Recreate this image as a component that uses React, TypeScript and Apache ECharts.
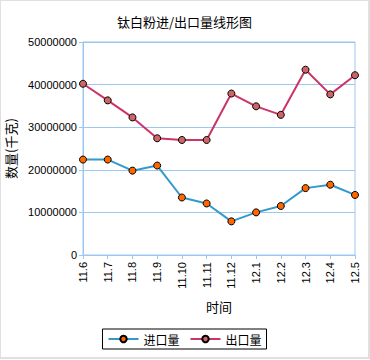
import React, { useEffect, useRef } from "react";
import * as echarts from "echarts";

const categories = ["11.6", "11.7", "11.8", "11.9", "11.10", "11.11", "11.12", "12.1", "12.2", "12.3", "12.4", "12.5"];
const importValues = [22400000, 22400000, 19800000, 21000000, 13500000, 12100000, 7900000, 10000000, 11500000, 15700000, 16500000, 14100000];
const exportValues = [40200000, 36300000, 32300000, 27400000, 27000000, 27000000, 37900000, 34900000, 32900000, 43500000, 37700000, 42200000];

const FONT = "'Liberation Sans', Arial, sans-serif";
const CJK = "'Noto Sans CJK SC', sans-serif";
const GRID = "#9cc7f0";

export default function App() {
  const ref = useRef<HTMLDivElement>(null);
  useEffect(() => {
    document.body.style.margin = "0";
    const chart = echarts.init(ref.current!, null, { renderer: "svg" });
    chart.setOption({
      animation: false,
      backgroundColor: "#fff",
      title: {
        text: "钛白粉进/出口量线形图",
        left: "center",
        top: 9,
        textStyle: { fontFamily: CJK, fontSize: 13, fontWeight: "normal", color: "#000" },
      },
      grid: {
        left: 82,
        right: 13,
        top: 41,
        bottom: 102,
        show: true,
        borderColor: GRID,
        borderWidth: 1,
        containLabel: false,
        outerBoundsMode: "none",
      },
      legend: {
        top: 328,
        left: "center",
        data: ["进口量", "出口量"],
        borderColor: "#000",
        borderWidth: 1,
        borderRadius: 0,
        padding: [4, 5, 4, 5],
        itemWidth: 30,
        itemHeight: 8,
        itemGap: 10,
        textStyle: { fontFamily: CJK, fontSize: 12, color: "#000" },
      },
      xAxis: {
        type: "category",
        data: categories,
        boundaryGap: false,
        name: "时间",
        nameLocation: "middle",
        nameGap: 45,
        nameTextStyle: { fontFamily: CJK, fontSize: 13, color: "#000" },
        axisLine: { lineStyle: { color: GRID, width: 1 } },
        axisTick: { show: true, length: 4, lineStyle: { color: GRID } },
        axisLabel: {
          rotate: 90,
          interval: 0,
          margin: 7,
          fontFamily: FONT,
          fontSize: 11,
          color: "#000",
        },
        splitLine: { show: false },
      },
      yAxis: {
        type: "value",
        min: 0,
        max: 50000000,
        interval: 10000000,
        name: "数量(千克)",
        nameLocation: "middle",
        nameGap: 57,
        nameRotate: 90,
        nameTextStyle: { fontFamily: CJK, fontSize: 13, color: "#000" },
        axisLine: { show: true, lineStyle: { color: GRID, width: 1 } },
        axisTick: { show: true, length: 4, lineStyle: { color: GRID } },
        axisLabel: {
          margin: 6,
          fontFamily: FONT,
          fontSize: 11,
          color: "#000",
          formatter: (v: number) => String(v),
        },
        splitLine: { show: true, lineStyle: { color: GRID, width: 1 } },
      },
      series: [
        {
          name: "进口量",
          type: "line",
          data: importValues,
          symbol: "circle",
          symbolSize: 7,
          lineStyle: { color: "#3399cc", width: 2 },
          itemStyle: { color: "#ff6600", borderColor: "#000", borderWidth: 1 },
        },
        {
          name: "出口量",
          type: "line",
          data: exportValues,
          symbol: "circle",
          symbolSize: 7,
          lineStyle: { color: "#cc3366", width: 2 },
          itemStyle: { color: "#cc6666", borderColor: "#000", borderWidth: 1 },
        },
      ],
    });
    return () => chart.dispose();
  }, []);
  return (
    <div style={{ position: "absolute", left: 0, top: 0, width: 370, height: 360, background: "#fff" }}>
      <div
        style={{
          position: "absolute",
          left: 0,
          top: 0,
          width: 370,
          height: 359,
          boxSizing: "border-box",
          border: "1px solid #e0e0e0",
          borderRightWidth: 2,
          borderBottomWidth: 2,
        }}
      >
        <div ref={ref} style={{ width: 367, height: 356 }} />
      </div>
    </div>
  );
}
